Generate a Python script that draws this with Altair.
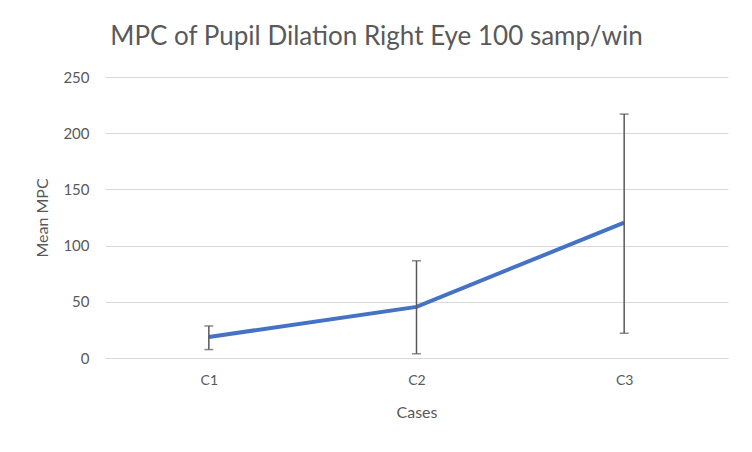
import altair as alt
import pandas as pd

cases = ["C1", "C2", "C3"]
means = [18.7, 45.5, 120.5]
lower = [7.5, 3.8, 22.0]
upper = [28.5, 86.5, 217.0]

df = pd.DataFrame({"case": cases, "mean": means, "lo": lower, "hi": upper})

FONT = "Lato"
GREY = "#595959"

x = alt.X("case:N", title="Cases",
          scale=alt.Scale(type="point", padding=0.5),
          axis=alt.Axis(labelAngle=0, ticks=False, grid=False, domainColor="#d9d9d9",
                        labelColor=GREY, titleColor=GREY, labelFontSize=14, titleFontSize=16,
                        labelFont=FONT, titleFont=FONT, titleFontWeight="normal",
                        labelPadding=15, titlePadding=17))
yscale = alt.Scale(domain=[0, 250], nice=False, zero=True)
yaxis = alt.Axis(values=[0, 50, 100, 150, 200, 250], ticks=False, domain=False,
                 gridColor="#d9d9d9", labelColor=GREY, titleColor=GREY,
                 labelFontSize=15, titleFontSize=16, labelFont=FONT, titleFont=FONT,
                 titleFontWeight="normal", labelPadding=16, titlePadding=12)
y = alt.Y("mean:Q", title="Mean MPC", scale=yscale, axis=yaxis)
ylo = alt.Y("lo:Q", title="Mean MPC", scale=yscale, axis=yaxis)
yhi = alt.Y("hi:Q", title="Mean MPC", scale=yscale, axis=yaxis)

base = alt.Chart(df)

line = base.mark_line(color="#4472C4", strokeWidth=4).encode(x=x, y=y)
rule = base.mark_rule(color=GREY, strokeWidth=1.5).encode(x=x, y=ylo, y2="hi:Q")
cap_lo = base.mark_tick(color=GREY, thickness=1.5, size=9, orient="horizontal").encode(x=x, y=ylo)
cap_hi = base.mark_tick(color=GREY, thickness=1.5, size=9, orient="horizontal").encode(x=x, y=yhi)

chart = alt.layer(line, rule, cap_lo, cap_hi).properties(
    width=623, height=281,
    padding={"left": 26, "top": 16, "right": 5, "bottom": 5},
    title=alt.TitleParams("MPC of Pupil Dilation Right Eye 100 samp/win", font=FONT,
                          fontSize=26, fontWeight="normal", color=GREY, anchor="middle",
                          offset=20, dx=-40),
).configure(background="white").configure_view(stroke=None)

chart.save("out.html", embed_options={"renderer": "svg", "actions": False})
